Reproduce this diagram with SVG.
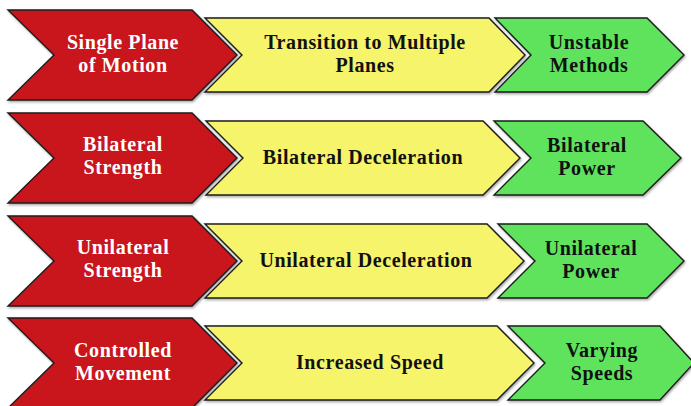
<svg xmlns="http://www.w3.org/2000/svg" width="691" height="406" viewBox="0 0 691 406">
  <defs>
    <filter id="soft" x="-5%" y="-10%" width="110%" height="120%">
      <feDropShadow dx="1" dy="1.5" stdDeviation="0.8" flood-color="#000" flood-opacity="0.35"/>
    </filter>
  </defs>
  <style>
    .chev { stroke: #1c1c1c; stroke-width: 1.4; stroke-linejoin: miter; filter: url(#soft); }
    .red { fill: #C8161B; }
    .yellow { fill: #F6F46A; }
    .green { fill: #5FE35D; }
    text { font-family: "Liberation Serif", "Times New Roman", serif; font-weight: bold; font-size: 20px; letter-spacing: 0.6px; text-anchor: middle; }
    .light { fill: #ffffff; }
    .dark { fill: #111111; }
  </style>
  <rect width="691" height="406" fill="#ffffff"/>

  <!-- Row 1 -->
  <g id="single-plane">
    <polygon class="chev red" points="8,10 192,10 237,55 192,100 8,100 54,55"/>
    <text class="light" x="123" y="49">Single Plane</text>
    <text class="light" x="123" y="72">of Motion</text>
  </g>
  <g id="transition-planes">
    <polygon class="chev yellow" points="205,18 489,18 525,55 489,92 205,92 242,55"/>
    <text class="dark" x="365" y="49">Transition to Multiple</text>
    <text class="dark" x="365" y="72">Planes</text>
  </g>
  <g id="unstable-methods">
    <polygon class="chev green" points="495,18 647,18 684,55 647,92 495,92 531,55"/>
    <text class="dark" x="589" y="49">Unstable</text>
    <text class="dark" x="589" y="72">Methods</text>
  </g>

  <!-- Row 2 -->
  <g id="bilateral-strength">
    <polygon class="chev red" points="8,113 192,113 237,158 192,203 8,203 54,158"/>
    <text class="light" x="123" y="151">Bilateral</text>
    <text class="light" x="123" y="174">Strength</text>
  </g>
  <g id="bilateral-deceleration">
    <polygon class="chev yellow" points="206,121 483,121 520,158 483,195 206,195 243,158"/>
    <text class="dark" x="363" y="164">Bilateral Deceleration</text>
  </g>
  <g id="bilateral-power">
    <polygon class="chev green" points="494,121 643,121 681,158 643,195 494,195 531,158"/>
    <text class="dark" x="587" y="152">Bilateral</text>
    <text class="dark" x="587" y="175">Power</text>
  </g>

  <!-- Row 3 -->
  <g id="unilateral-strength">
    <polygon class="chev red" points="8,216 192,216 237,261 192,306 8,306 54,261"/>
    <text class="light" x="123" y="254">Unilateral</text>
    <text class="light" x="123" y="277">Strength</text>
  </g>
  <g id="unilateral-deceleration">
    <polygon class="chev yellow" points="205,224 487,224 524,261 487,298 205,298 242,261"/>
    <text class="dark" x="366" y="267">Unilateral Deceleration</text>
  </g>
  <g id="unilateral-power">
    <polygon class="chev green" points="498,224 647,224 684,261 647,298 498,298 535,261"/>
    <text class="dark" x="591" y="255">Unilateral</text>
    <text class="dark" x="591" y="278">Power</text>
  </g>

  <!-- Row 4 -->
  <g id="controlled-movement">
    <polygon class="chev red" points="8,318 192,318 237,363 192,408 8,408 54,363"/>
    <text class="light" x="123" y="357">Controlled</text>
    <text class="light" x="123" y="380">Movement</text>
  </g>
  <g id="increased-speed">
    <polygon class="chev yellow" points="205,326 497,326 534,363 497,400 205,400 242,363"/>
    <text class="dark" x="370" y="369">Increased Speed</text>
  </g>
  <g id="varying-speeds">
    <polygon class="chev green" points="508,326 660,326 694,363 660,400 508,400 545,363"/>
    <text class="dark" x="602" y="357">Varying</text>
    <text class="dark" x="602" y="380">Speeds</text>
  </g>

  <!-- chevrons sit edge to edge; no separate connector lines are drawn -->
  <g id="connectors"/>
</svg>
